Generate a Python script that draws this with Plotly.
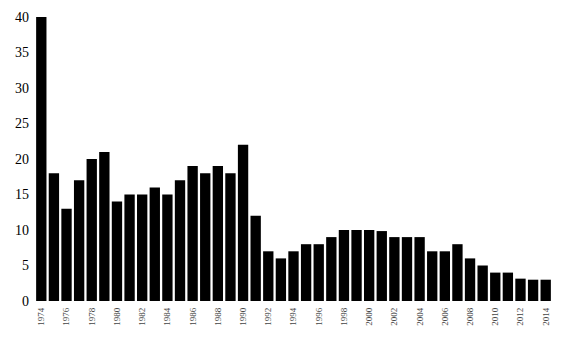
import plotly.graph_objects as go

years = list(range(1974, 2015))
values = [40, 18, 13, 17, 20, 21, 14, 15, 15, 16, 15, 17, 19, 18, 19, 18, 22, 12, 7, 6,
          7, 8, 8, 9, 10, 10, 10, 9.85, 9, 9, 9, 7, 7, 8, 6, 5, 4, 4, 3.15, 3, 3]
tick_years = list(range(1974, 2015, 2))

fig = go.Figure(go.Bar(x=years, y=values, marker=dict(color="black", line=dict(width=0))))
fig.update_layout(
    width=563, height=344,
    margin=dict(l=35, r=11, t=17, b=43),
    paper_bgcolor="white", plot_bgcolor="white",
    bargap=0.18, showlegend=False,
    font=dict(family="Liberation Serif, Times New Roman, serif", color="black"),
)
fig.update_xaxes(range=[1973.5, 2014.5], tickmode="array", tickvals=tick_years,
                 ticktext=[str(y) for y in tick_years], tickangle=-90,
                 tickfont=dict(size=9, color="#444"), showgrid=False, zeroline=False,
                 showline=False, ticks="", ticklabelstandoff=4)
fig.update_yaxes(range=[0, 40], tickvals=list(range(0, 45, 5)), tickfont=dict(size=14),
                 showgrid=False, zeroline=False, showline=False, ticks="",
                 ticklabelstandoff=5)
fig.write_html("out.html")
